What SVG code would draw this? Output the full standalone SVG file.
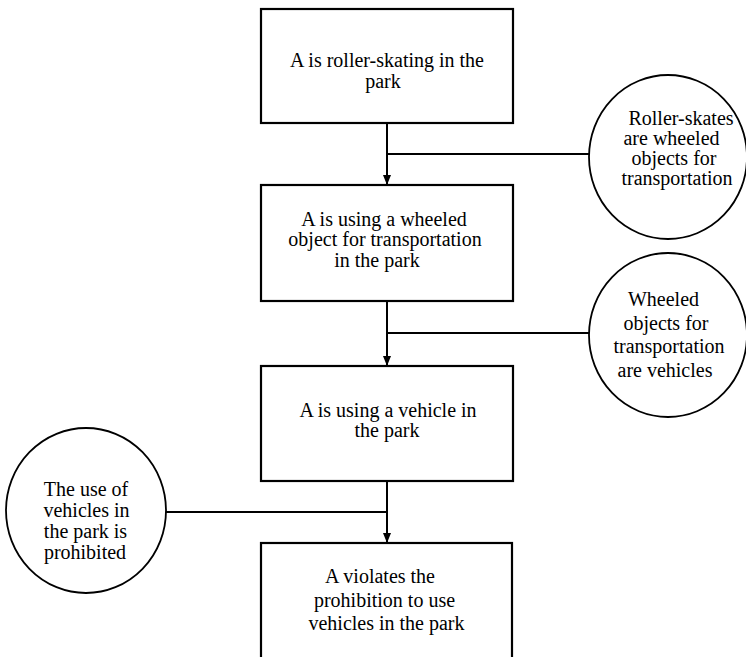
<svg xmlns="http://www.w3.org/2000/svg" width="746" height="657" viewBox="0 0 746 657">
<style>
.box{fill:#fff;stroke:#000;stroke-width:2.2}
.circ{fill:#fff;stroke:#000;stroke-width:1.8}
.ln{fill:none;stroke:#000;stroke-width:2}
text{font-family:"Liberation Serif","Times New Roman",serif;font-size:20px;fill:#000;text-anchor:middle}
</style>
<defs>
<marker id="ah" viewBox="0 0 10 10" refX="10" refY="5" markerWidth="10" markerHeight="11" markerUnits="userSpaceOnUse" orient="auto">
<path d="M0,1 L10,5 L0,9 Z" fill="#000"/>
</marker>
</defs>
<rect width="746" height="657" fill="#fff"/>
<g id="connectors">
<line class="ln" x1="387" y1="123" x2="387" y2="185" marker-end="url(#ah)"/>
<line class="ln" x1="387" y1="154" x2="590" y2="154"/>
<line class="ln" x1="387" y1="301" x2="387" y2="366" marker-end="url(#ah)"/>
<line class="ln" x1="387" y1="333" x2="590" y2="333"/>
<line class="ln" x1="387" y1="481" x2="387" y2="543" marker-end="url(#ah)"/>
<line class="ln" x1="166" y1="512" x2="387" y2="512"/>
</g>
<g id="n1">
<rect class="box" x="261" y="9" width="252" height="114"/>
<text x="387" y="67">A is roller-skating in the</text>
<text x="383" y="88">park</text>
</g>
<g id="n2">
<rect class="box" x="261" y="185" width="252" height="116"/>
<text x="384" y="226">A is using a wheeled</text>
<text x="385" y="246">object for transportation</text>
<text x="377" y="267">in the park</text>
</g>
<g id="n3">
<rect class="box" x="261" y="366" width="252" height="115"/>
<text x="388" y="417">A is using a vehicle in</text>
<text x="387" y="437">the park</text>
</g>
<g id="n4">
<rect class="box" x="261" y="543" width="251" height="130"/>
<text x="380" y="583">A violates the</text>
<text x="384.5" y="607">prohibition to use</text>
<text x="386.5" y="630">vehicles in the park</text>
</g>
<g id="c1">
<ellipse class="circ" cx="668" cy="157" rx="79" ry="82"/>
<text x="681" y="125">Roller-skates</text>
<text x="671.5" y="145">are wheeled</text>
<text x="674" y="165">objects for</text>
<text x="677" y="185">transportation</text>
</g>
<g id="c2">
<ellipse class="circ" cx="668" cy="335" rx="79" ry="82"/>
<text x="663.5" y="306">Wheeled</text>
<text x="666" y="330">objects for</text>
<text x="669" y="353">transportation</text>
<text x="665" y="377">are vehicles</text>
</g>
<g id="c3">
<ellipse class="circ" cx="86" cy="510.5" rx="80" ry="82.5"/>
<text x="86" y="496">The use of</text>
<text x="86.5" y="517">vehicles in</text>
<text x="85.5" y="538">the park is</text>
<text x="85" y="559">prohibited</text>
</g>
</svg>
